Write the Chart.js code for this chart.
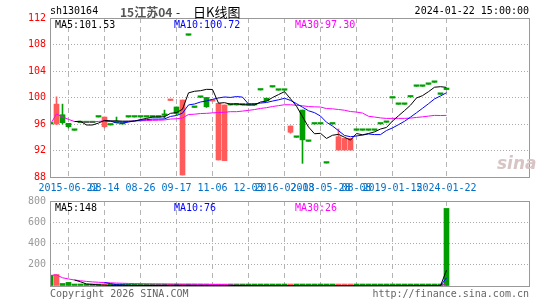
<!DOCTYPE html>
<html>
<head>
<meta charset="utf-8">
<script src="https://cdn.jsdelivr.net/npm/chart.js@4.4.1/dist/chart.umd.min.js"></script>
<style>
body{margin:0;width:545px;height:300px;background:#fff;position:relative;overflow:hidden;font-family:'DejaVu Sans Mono',monospace;font-size:10px}
canvas{position:absolute;left:0}
#kChart{top:0}
#volChart{top:190px}
.t{position:absolute;white-space:nowrap;line-height:1}
</style>
</head>
<body>

<canvas id="kChart" width="545" height="200"></canvas>
<canvas id="volChart" width="545" height="110"></canvas>

<div class="t" style="left:50px;top:6px;color:#000">sh130164</div>
<div class="t" style="left:120px;top:3px;font:bold 12px 'Noto Sans CJK SC';color:#555">15江苏04</div>
<div class="t" style="left:176px;top:3px;font:12px 'Noto Sans CJK SC';color:#000">-</div>
<div class="t" style="left:193px;top:2px;font:13px 'Noto Sans CJK SC';color:#000">日K线图</div>
<div class="t" style="right:16px;top:6px;color:#000">2024-01-22 15:00:00</div>

<div class="t" style="left:55px;top:20px;color:#000">MA5:101.53</div>
<div class="t" style="left:174px;top:20px;color:#0000ff">MA10:100.72</div>
<div class="t" style="left:295px;top:20px;color:#ff00ff">MA30:97.30</div>

<div class="t" style="left:497px;top:153px;font:italic bold 17px 'DejaVu Sans';color:#d8c4c4">sina</div>

<div class="t" style="left:55px;top:203px;color:#000">MA5:148</div>
<div class="t" style="left:174px;top:203px;color:#0000ff">MA10:76</div>
<div class="t" style="left:295px;top:203px;color:#ff00ff">MA30:26</div>

<div class="t" style="left:50px;top:289px;color:#666">Copyright 2026 SINA.COM</div>
<div class="t" style="right:16px;top:289px;color:#666">http://finance.sina.com.cn</div>

<script>

// ======================================
// DATA
// ======================================
const tickIdx = [3, 9, 15, 21, 27, 33, 39, 45, 51, 57, 66];
const tickLabels = ['2015-06-22','08-14','08-26','09-17','11-06','12-03',
  '2016-02-03','2018-05-28','08-08','2019-01-15','2024-01-22'];

const openV = [96,96,97.4,96.1,95.05,96.2,96.2,96.2,97.05,95.6,
  95.85,96.3,96.0,97.05,97.05,97.05,97.05,97.05,97.05,97.3,
  99.55,98.57,88.3,109.4,98.5,100.03,100.0,99.45,90.57,90.47,
  98.87,98.87,98.87,98.87,98.87,101.13,99.9,101.58,101.1,101.1,
  94.75,93.99,98.1,93.38,96,96,90.1,96,92.07,92.07,
  92.07,95.05,95.05,95.05,95.05,96,96.25,99.92,98.97,98.97,
  100.08,101.69,101.69,101.99,102.29,100.48,101.2];

const closeV = [96,99,96.2,95.6,95.05,96.2,96.2,96.2,97.05,97.05,
  95.85,96.2,96.0,97.05,97.05,97.05,97.05,97.05,97.05,97.3,
  99.65,97.6,99.62,109.4,98.5,100.03,98.6,99.6,99.12,98.87,
  98.87,98.87,98.87,98.87,98.87,101.13,99.5,101.58,101.1,101.1,
  95.7,93.99,93.6,93.38,96,96,90.1,96,94.08,93.83,
  93.83,95.05,95.05,95.05,95.05,96,96.25,99.92,98.97,98.97,
  100.08,101.69,101.69,101.99,102.29,100.48,101.2];

const highV = [96,100.1,99,96.1,95.05,96.2,96.2,96.2,97.05,97.05,
  95.85,97.05,96.0,97.05,97.05,97.05,97.05,97.05,97.05,98.1,
  99.65,98.57,99.62,109.4,98.5,100.03,100.0,99.6,99.12,98.87,
  98.87,98.87,98.87,98.87,98.87,101.13,99.9,101.58,101.1,101.1,
  95.7,93.99,98.1,93.38,96,96,90.1,96,95.25,93.83,
  93.83,95.05,95.05,95.05,95.05,96,96.25,99.92,98.97,98.97,
  100.08,101.69,101.69,101.99,102.29,100.48,101.2];

const lowV = [96,95.9,96.0,95.4,95.05,96.2,96.2,96.2,97.05,95.4,
  95.85,96.2,96.0,97.05,97.05,97.05,97.05,97.05,97.05,96.9,
  99.55,97.4,88.3,109.4,98.5,100.03,98.5,99.45,90.57,90.47,
  98.87,98.87,98.87,98.87,98.87,101.13,99.5,101.58,101.1,101.1,
  94.6,93.99,90.06,93.38,96,96,90.1,96,92.07,92.07,
  92.07,95.05,95.05,95.05,95.05,96,96.25,99.92,98.97,98.97,
  100.08,101.69,101.69,101.99,102.29,100.48,101.2];

const ma5 = [null,null,null,null,96.37,96.41,95.85,95.85,96.14,96.54,
  96.47,96.47,96.43,96.43,96.43,96.67,96.84,97.05,97.05,97.1,
  97.61,97.72,98.23,100.7,100.94,101.03,101.23,101.21,99.15,99.22,
  98.99,99.05,98.92,98.87,98.87,99.32,99.45,99.99,100.44,100.88,
  99.8,98.69,97.1,95.55,94.53,94.59,93.82,94.3,94.44,94.0,
  93.57,94.56,94.37,94.56,94.81,95.24,95.48,96.45,97.24,98.02,
  98.84,99.93,100.28,100.88,101.55,101.63,101.53];

const ma10 = [null,null,null,null,null,null,null,null,null,96.46,
  96.44,96.16,96.14,96.29,96.49,96.57,96.66,96.74,96.74,96.77,
  97.14,97.28,97.64,98.88,99.02,99.32,99.48,99.72,99.93,100.08,
  100.01,100.14,100.06,99.01,99.05,99.16,99.25,99.46,99.65,99.88,
  99.56,99.07,98.54,98.0,97.71,97.2,96.26,95.7,94.99,94.27,
  94.08,94.19,94.33,94.5,94.4,94.4,95.02,95.41,95.9,96.41,
  97.04,97.7,98.37,99.06,99.79,100.23,100.72];

const ma30 = [96,97.5,97.07,96.7,96.37,96.34,96.32,96.31,96.39,96.46,
  96.4,96.38,96.35,96.4,96.45,96.48,96.52,96.55,96.57,96.61,
  96.75,96.79,96.91,97.43,97.48,97.58,97.61,97.68,97.73,97.77,
  97.86,97.86,97.95,98.06,98.18,98.35,98.46,98.64,98.77,98.91,
  98.9,98.83,98.75,98.63,98.59,98.56,98.33,98.29,98.19,98.08,
  97.88,97.8,97.65,97.17,97.05,96.92,96.84,96.85,96.85,96.85,
  96.89,96.99,97.08,97.19,97.3,97.28,97.3];

const vol = [100,108,24,34,16,16,4,6,8,6,
  3,4,5,5,4,3,4,5,4,12,
  6,5,3,3,4,3,3,4,3,3,
  2,8,3,2,2,2,2,1,1,1,
  1,1,1,1,1,1,1,1,1,1,
  1,1,1,1,1,1,1,4,4,4,
  4,4,2,3,2,3,730];

const vma5 = [null,null,null,null,56.4,39.6,18.8,15.2,10,8,
  5.4,5.4,5.2,4.6,4.2,4.2,4.2,4.2,4,5.6,
  6.2,6.4,6,5.8,4.2,3.6,3.2,3.4,3.4,3.2,
  3,4,3.8,3.6,3.4,3.4,2.2,1.8,1.6,1.4,
  1.2,1,1,1,1,1,1,1,1,1,
  1,1,1,1,1,1,1,1.6,2.2,2.8,
  3.4,4,3.6,3.4,3,2.8,148];

const vma10 = [null,null,null,null,null,null,null,null,null,32.2,
  22.5,12.1,10.2,7.3,6.1,4.8,4.8,4.7,4.3,4.9,
  5.2,5.3,5.1,4.9,4.9,4.9,4.8,4.7,4.6,3.7,
  3.3,3.6,3.6,3.5,3.3,3.2,3.1,2.8,2.6,2.4,
  2.3,1.6,1.4,1.3,1.2,1.1,1,1,1,1,
  1,1,1,1,1,1,1,1.3,1.6,1.9,
  2.2,2.5,2.6,2.8,2.9,3.1,76];

const vma30 = [100,104,77.3,66.5,56.4,49.7,43.1,38.5,35.1,32.2,
  29.5,27.4,25.7,24.2,22.9,21.6,20.6,19.7,18.9,18.6,
  18,17.4,16.7,16.2,15.7,15.2,14.7,14.4,14,13.6,
  10.3,7,6.3,5.2,4.8,4.3,4.2,4.1,3.8,3.7,
  3.6,3.5,3.4,3.2,3.1,3.1,3,2.8,2.7,2.4,
  2.2,2.1,2,1.9,1.8,1.8,1.7,1.7,1.7,1.8,
  1.8,1.7,1.7,1.7,1.7,1.7,26];

// ======================================
// HELPERS
// ======================================
const RED = '#ff5b5b';
const GREEN = '#009e00';
const FONT = {family:"'DejaVu Sans Mono', monospace", size:10};

const isUp = i => closeV[i] > openV[i];
const candleColor = ctx => isUp(ctx.dataIndex) ? RED : GREEN;

const pts = arr => arr.map((v,i) => ({x:i, y:v}));

function maLine(arr, color, order){
  return {
    type:'line',
    data:pts(arr),
    borderColor:color,
    borderWidth:1,
    pointRadius:0,
    tension:0,
    order
  };
}

// plot frame
const framePlugin = {
  id:'frame',
  afterDraw(chart){
    const a = chart.chartArea;
    const c = chart.ctx;
    c.save();
    c.strokeStyle = '#999';
    c.lineWidth = 1;
    c.strokeRect(Math.round(a.left)+0.5, Math.round(a.top)+0.5,
      Math.round(a.right-a.left), Math.round(a.bottom-a.top));
    c.restore();
  }
};

function xScale(height, showLabels){
  return {
    type:'linear',
    min:-1/12,
    max:79.75,
    offset:false,
    afterBuildTicks(s){ s.ticks = tickIdx.map(v => ({value:v})); },
    afterFit(s){ s.height = height; },
    ticks:{
      display:showLabels,
      autoSkip:false,
      maxRotation:0,
      padding:5,
      color:'#0070c8',
      font:FONT,
      callback:(v,i) => tickLabels[i]
    },
    grid:{color:'#b4b4b4', drawTicks:false, offset:false},
    border:{display:false, dash:[5,4]}
  };
}

// ======================================
// K LINE CHART
// ======================================
new Chart(document.getElementById('kChart'), {

  type:'bar',

  data:{
    datasets:[
      maLine(ma5, '#000000', 0),
      maLine(ma10, '#0000ff', 1),
      maLine(ma30, '#ff00ff', 2),
      {
        label:'wick',
        data:lowV.map((v,i) => ({x:i, y:[v, highV[i]]})),
        backgroundColor:candleColor,
        barThickness:1,
        grouped:false,
        order:6
      },
      {
        label:'body',
        data:openV.map((v,i) => ({x:i, y:[v, closeV[i]]})),
        backgroundColor:candleColor,
        barThickness:5,
        minBarLength:1.5,
        grouped:false,
        order:5
      }
    ]
  },

  options:{
    responsive:false,
    animation:false,
    layout:{padding:{left:0, right:16, top:18, bottom:0}},
    plugins:{legend:{display:false}, tooltip:{enabled:false}},
    scales:{
      x:xScale(23, true),
      y:{
        min:88,
        max:112,
        afterFit(s){ s.width = 50; },
        ticks:{stepSize:4, color:'#ff0000', font:FONT, padding:4},
        grid:{color:'#aaa', drawTicks:false},
        border:{display:false, dash:[1,2]}
      }
    }
  },

  plugins:[framePlugin]
});

// ======================================
// VOLUME CHART
// ======================================
new Chart(document.getElementById('volChart'), {

  type:'bar',

  data:{
    datasets:[
      maLine(vma5, '#000000', 0),
      maLine(vma10, '#0000ff', 1),
      maLine(vma30, '#ff00ff', 2),
      {
        label:'volume',
        data:pts(vol),
        backgroundColor:candleColor,
        barThickness:5,
        minBarLength:2,
        grouped:false,
        order:5
      }
    ]
  },

  options:{
    responsive:false,
    animation:false,
    layout:{padding:{left:0, right:16, top:11, bottom:0}},
    plugins:{legend:{display:false}, tooltip:{enabled:false}},
    scales:{
      x:xScale(14, false),
      y:{
        min:0,
        max:800,
        afterFit(s){ s.width = 50; },
        ticks:{stepSize:200, color:'#999', font:FONT, padding:4,
          callback:v => v === 0 ? '' : v},
        grid:{color:'#aaa', drawTicks:false},
        border:{display:false, dash:[1,2]}
      }
    }
  },

  plugins:[framePlugin]
});

</script>
</body>
</html>
